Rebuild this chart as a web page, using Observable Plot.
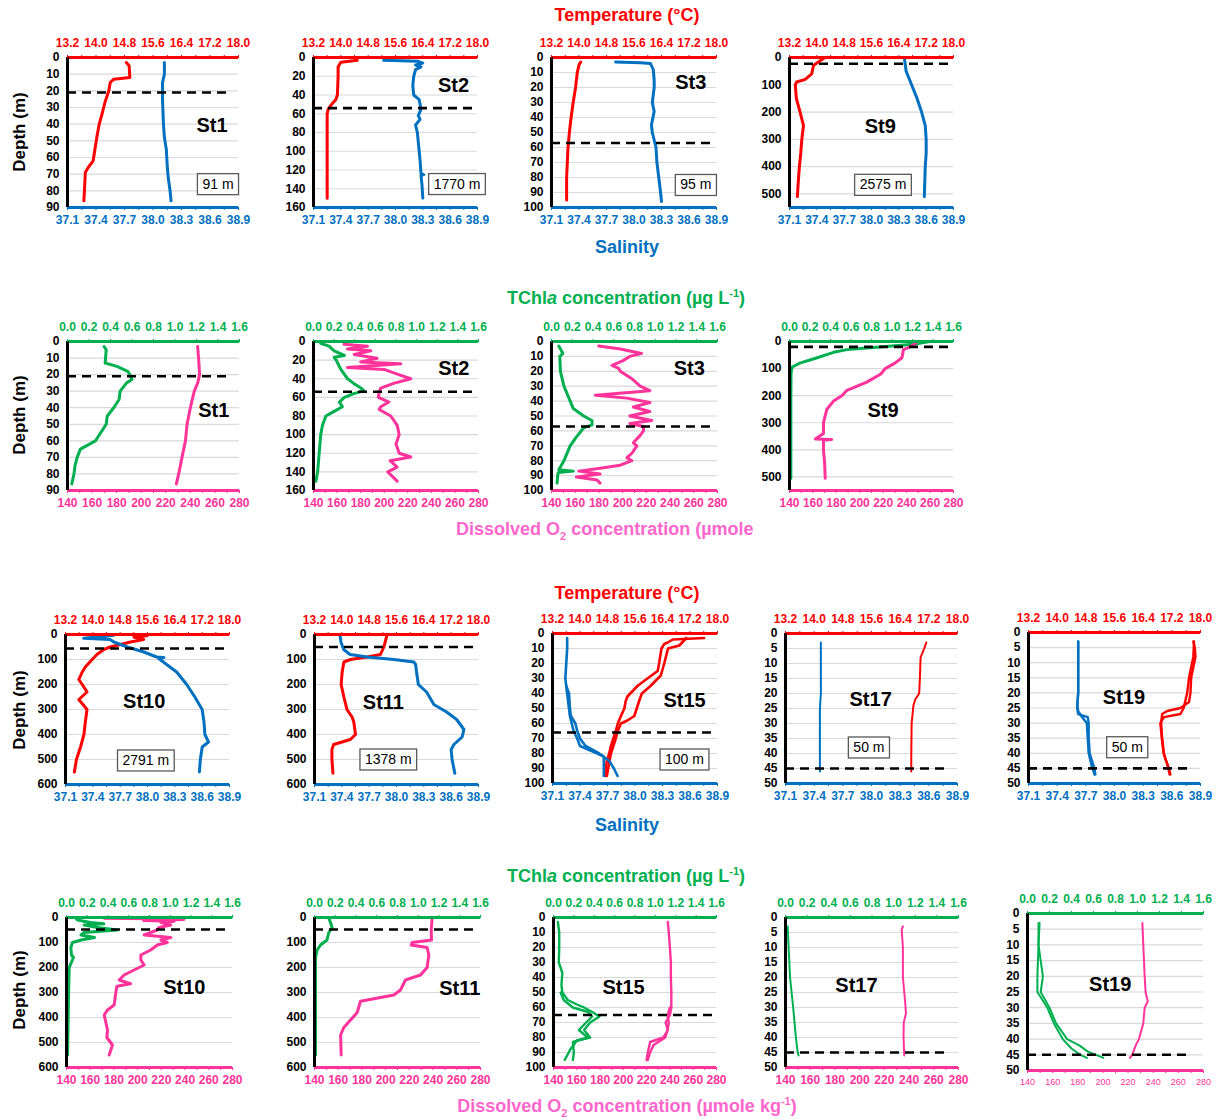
<!DOCTYPE html>
<html><head><meta charset="utf-8">
<script src="https://cdn.jsdelivr.net/npm/d3@7"></script>
<script src="https://cdn.jsdelivr.net/npm/@observablehq/plot@0.6"></script>
<style>
body{margin:0;background:#fff;font-family:"Liberation Sans",Arial,sans-serif;}
#root{position:relative;width:1220px;height:1119px;overflow:hidden;background:#fff}
.panel{position:absolute}
.panel svg{overflow:visible}
.title{position:absolute;font-weight:bold;font-size:18px;white-space:nowrap;transform:translate(-50%,-50%);line-height:1}
.ylab{position:absolute;font-weight:bold;font-size:17px;white-space:nowrap;transform:translate(-50%,-50%) rotate(-90deg);color:#000}
sub,sup{font-size:11px;line-height:0}
</style></head><body><div id="root"></div>
<script>
// ---------------- tick labels ----------------
const tempTicks = [13.2, 14.0, 14.8, 15.6, 16.4, 17.2, 18.0];
const tempMinor = [13.2, 13.6, 14.0, 14.4, 14.8, 15.2, 15.6, 16.0, 16.4, 16.8, 17.2, 17.6, 18.0];
const salTicks = [37.1, 37.4, 37.7, 38.0, 38.3, 38.6, 38.9];
const salMinor = [37.1, 37.25, 37.4, 37.55, 37.7, 37.85, 38.0, 38.15, 38.3, 38.45, 38.6, 38.75, 38.9];
const chlTicks = [0, 0.2, 0.4, 0.6, 0.8, 1.0, 1.2, 1.4, 1.6];
const o2Ticks = [140, 160, 180, 200, 220, 240, 260, 280];
const o2Minor = [140, 150, 160, 170, 180, 190, 200, 210, 220, 230, 240, 250, 260, 270, 280];
const depth90 = [0, 10, 20, 30, 40, 50, 60, 70, 80, 90];
const depth100 = [0, 10, 20, 30, 40, 50, 60, 70, 80, 90, 100];
const depth160 = [0, 20, 40, 60, 80, 100, 120, 140, 160];
const depth500 = [0, 100, 200, 300, 400, 500];
const depth600 = [0, 100, 200, 300, 400, 500, 600];
const depth50 = [0, 5, 10, 15, 20, 25, 30, 35, 40, 45, 50];

// ---------------- profiles: [value, depth] ----------------
// Row 1 : temperature / salinity
const tempSt1 = [[14.85,3],[14.93,5],[14.95,12],[14.5,13],[14.4,15],[14.36,20],[14.25,27],[14.18,33],[14.09,40],[14.03,47],[13.97,55],[13.92,62],[13.78,66],[13.70,69],[13.68,78],[13.66,86]];
const salSt1 = [[38.12,3],[38.12,10],[38.10,15],[38.10,25],[38.11,40],[38.12,48],[38.14,55],[38.15,65],[38.16,72],[38.18,80],[38.19,86]];
const tempSt2 = [[14.48,3],[14.0,5],[13.92,10],[13.92,20],[13.91,30],[13.9,40],[13.85,45],[13.73,50],[13.63,55],[13.6,60],[13.6,80],[13.6,100],[13.6,120],[13.6,150]];
const salSt2 = [[37.87,3],[38.24,4],[38.3,6],[38.22,8],[38.28,10],[38.22,13],[38.2,20],[38.19,30],[38.2,40],[38.26,45],[38.28,55],[38.25,62],[38.27,66],[38.22,72],[38.24,80],[38.25,90],[38.26,100],[38.27,110],[38.28,124],[38.31,125],[38.28,126],[38.29,135],[38.30,150]];
const tempSt3 = [[14.05,3],[14.0,5],[13.95,10],[13.9,20],[13.83,30],[13.77,40],[13.72,50],[13.68,60],[13.66,70],[13.64,80],[13.64,95]];
const salSt3 = [[37.80,3],[38.07,3.5],[38.18,4],[38.21,8],[38.22,15],[38.22,20],[38.2,30],[38.22,36],[38.19,45],[38.2,50],[38.24,60],[38.25,70],[38.27,80],[38.29,90],[38.30,96]];
const tempSt9 = [[14.24,0],[14.0,20],[13.9,30],[13.85,60],[13.66,80],[13.41,90],[13.37,100],[13.4,150],[13.51,200],[13.61,250],[13.56,300],[13.53,350],[13.49,400],[13.46,450],[13.43,510]];
const salSt9 = [[38.36,0],[38.38,50],[38.44,100],[38.50,150],[38.55,200],[38.59,250],[38.60,300],[38.60,350],[38.59,400],[38.58,510]];
// Row 2 : TChla / O2
const chlSt1 = [[0.34,3],[0.36,5],[0.35,13],[0.46,15],[0.56,18],[0.58,20],[0.60,23],[0.55,25],[0.49,30],[0.48,35],[0.43,40],[0.37,45],[0.36,50],[0.31,55],[0.26,60],[0.12,65],[0.09,70],[0.07,75],[0.06,80],[0.04,86]];
const o2St1 = [[245.9,3],[246.7,10],[247.5,20],[246,25],[243.2,30],[240,40],[237.3,50],[236,60],[233.2,70],[230.5,80],[228.6,86]];
const chlSt2 = [[0.07,2],[0.15,5],[0.2,10],[0.3,15],[0.2,17],[0.22,20],[0.265,30],[0.33,40],[0.39,45],[0.46,50],[0.49,53],[0.39,56],[0.30,60],[0.25,65],[0.28,70],[0.2,75],[0.12,80],[0.087,90],[0.07,100],[0.055,120],[0.04,140],[0.023,150]];
const o2St2 = [[166,3],[185.8,5],[168.8,8],[188.6,10],[174.5,14],[194,18],[180,22],[214,24],[168.8,28],[200,30],[211,35],[222.6,40],[208,45],[197,50],[195.7,55],[195,60],[204,65],[197,70],[195.7,73],[205.6,80],[211,90],[212.7,100],[210,110],[212.7,120],[222.6,124],[205,128],[211,135],[203,140],[211,150]];
const chlSt3 = [[0.07,3],[0.11,8],[0.08,10],[0.086,20],[0.12,30],[0.18,40],[0.21,45],[0.31,50],[0.39,53],[0.39,56],[0.31,58],[0.23,65],[0.18,70],[0.12,80],[0.07,86],[0.21,87],[0.065,88],[0.06,90],[0.054,95]];
const o2St3 = [[179.8,3],[198,5],[216,8],[206,10],[200,13],[191,16],[196.6,18],[198,20],[207.8,25],[214.8,30],[223,33],[177,36],[203.6,38],[223,41],[209,44],[223,47],[206,50],[224.6,53],[206,55],[217.6,57],[217.6,60],[214.8,63],[209,68],[212,70],[207.8,75],[203.6,78],[207.8,80],[198,83],[181,85],[163,87],[181,89],[161,91],[178.4,93],[181,95]];
const chlSt9 = [[1.37,0],[1.21,10],[0.88,20],[0.72,25],[0.56,30],[0.43,40],[0.27,60],[0.10,80],[0.023,95],[0.015,120],[0.013,200],[0.013,300],[0.013,400],[0.013,505]];
const o2St9 = [[248.7,3],[243,20],[237.3,30],[236,60],[230,80],[221.7,100],[218,120],[206,150],[189,180],[184.7,200],[177.6,220],[171.9,250],[169,300],[169,340],[162,360],[176,362],[169,365],[169,400],[170,450],[170.5,505]];
// Row 3 : temperature / salinity
const tempSt10 = [[15.59,5],[15.2,10],[15.49,20],[15.1,30],[14.81,40],[14.51,50],[14.32,60],[14.12,80],[13.98,100],[13.78,130],[13.69,150],[13.59,180],[13.69,200],[13.83,230],[13.59,260],[13.83,300],[13.78,350],[13.74,400],[13.64,450],[13.52,500],[13.46,550]];
const salSt10 = [[37.63,3],[37.45,10],[37.30,15],[37.59,20],[37.63,30],[37.78,50],[37.96,70],[38.10,90],[38.18,92],[38.12,95],[38.21,120],[38.32,150],[38.43,200],[38.52,250],[38.60,300],[38.62,350],[38.63,400],[38.67,430],[38.60,450],[38.58,500],[38.57,550]];
const tempSt11 = [[15.32,3],[15.23,50],[15.13,80],[14.74,90],[14.25,100],[14.06,110],[14.01,150],[13.98,200],[14.06,250],[14.15,300],[14.3,330],[14.35,350],[14.4,400],[14.25,420],[13.76,440],[13.71,460],[13.71,500],[13.74,555]];
const salSt11 = [[37.38,3],[37.39,30],[37.42,60],[37.49,80],[37.68,90],[37.97,100],[38.19,110],[38.21,120],[38.22,150],[38.24,200],[38.33,230],[38.41,280],[38.55,310],[38.66,340],[38.74,380],[38.72,410],[38.63,440],[38.60,460],[38.61,500],[38.64,555]];
const tempSt15a = [[17.61,3],[16.7,4],[16.55,6],[16.45,7],[16.37,10],[16.3,20],[16.26,25],[15.96,30],[15.67,35],[15.38,42],[15.33,45],[15.29,50],[15.19,55],[15.1,60],[15.04,65],[14.97,70],[14.9,75],[14.85,80],[14.78,85],[14.75,90],[14.75,95]];
const tempSt15b = [[17.09,3],[16.89,8],[16.56,10],[16.45,20],[16.35,28],[16.05,35],[15.8,40],[15.72,45],[15.65,50],[15.58,55],[15.38,58],[15.19,60],[15.1,65],[15.04,70],[14.9,80],[14.82,90],[14.78,95]];
const salSt15a = [[37.26,3],[37.26,10],[37.25,20],[37.24,30],[37.25,35],[37.28,40],[37.29,50],[37.30,55],[37.35,60],[37.37,65],[37.40,70],[37.46,75],[37.61,80],[37.72,85],[37.77,90],[37.81,95]];
const salSt15b = [[37.25,35],[37.27,45],[37.29,55],[37.31,60],[37.33,65],[37.37,70],[37.40,75],[37.59,80],[37.66,82],[37.66,95]];
const tempSt17 = [[17.13,3],[17.07,5],[16.97,8],[16.95,15],[16.93,20],[16.82,22],[16.77,24],[16.72,30],[16.71,40],[16.71,46]];
const salSt17 = [[37.47,3],[37.47,10],[37.47,20],[37.46,25],[37.46,35],[37.46,46]];
const tempSt19a = [[17.80,3],[17.84,5],[17.86,8],[17.74,15],[17.72,20],[17.68,23],[17.44,25],[17.07,26],[16.93,27],[16.90,30],[16.93,35],[16.98,40],[17.02,42],[17.12,45],[17.16,47]];
const tempSt19b = [[17.82,3],[17.80,8],[17.68,15],[17.63,20],[17.53,25],[17.44,27],[16.98,28],[16.88,30],[16.92,35],[16.97,40],[17.06,43],[17.14,47]];
const salSt19a = [[37.62,3],[37.62,10],[37.62,20],[37.61,25],[37.62,27],[37.72,28],[37.73,30],[37.73,35],[37.74,40],[37.76,42],[37.79,45],[37.80,47]];
const salSt19b = [[37.62,3],[37.62,20],[37.61,24],[37.62,26],[37.66,28],[37.71,30],[37.72,35],[37.73,40],[37.76,44],[37.79,47]];
// Row 4 : TChla / O2
const chlSt10 = [[0.09,3],[0.106,10],[0.23,20],[0.36,25],[0.17,30],[0.30,40],[0.49,50],[0.33,55],[0.17,60],[0.14,70],[0.27,80],[0.14,90],[0.058,100],[0.042,120],[0.048,150],[0.067,160],[0.026,200],[0.02,300],[0.016,400],[0.01,550]];
const o2St10 = [[171.8,3],[211,5],[239,8],[205,12],[230.8,15],[219.6,20],[228,30],[218,40],[216.6,50],[205.5,70],[228,80],[219.6,90],[225,100],[216.6,110],[211,130],[202.7,150],[202.7,170],[205.5,190],[197,210],[188.6,230],[184.4,250],[194,265],[182.5,275],[181.6,300],[180.2,350],[174.6,370],[171.8,390],[173.2,420],[174.6,450],[174,480],[178.8,510],[176,550]];
const chlSt11 = [[0.138,3],[0.154,20],[0.17,40],[0.138,60],[0.12,90],[0.058,110],[0.026,130],[0.01,160],[0.01,300],[0.01,550]];
const o2St11 = [[239.2,3],[238.4,50],[238.7,90],[222.4,100],[221.6,110],[235,120],[236.4,150],[235,200],[229.4,230],[216.7,250],[212.5,290],[206.9,310],[190,325],[178.8,335],[176,380],[170.4,410],[164.7,440],[162,470],[162.5,550]];
const chlSt15a = [[0.043,3],[0.056,10],[0.056,20],[0.052,30],[0.087,37],[0.078,45],[0.087,50],[0.14,55],[0.23,58],[0.30,60],[0.38,63],[0.45,66],[0.36,70],[0.30,75],[0.36,80],[0.23,82],[0.165,88],[0.11,95]];
const chlSt15b = [[0.07,50],[0.10,55],[0.19,60],[0.34,63],[0.38,66],[0.32,70],[0.25,75],[0.30,78],[0.34,80],[0.19,83],[0.20,90],[0.19,95]];
const o2St15a = [[238.2,3],[239,10],[240,20],[240.8,30],[240.8,40],[241.2,50],[241.2,60],[240,65],[236.3,70],[238.2,75],[234.3,80],[223,83],[221,90],[219.9,95]];
const o2St15b = [[240,60],[238,65],[239,70],[238,75],[236,80],[226,85],[223,90],[221,95]];
const chlSt17 = [[0.02,3],[0.029,10],[0.042,20],[0.071,30],[0.096,40],[0.113,45],[0.121,46]];
const o2St17 = [[235,3],[234,4],[235,10],[235,20],[236.8,28],[237.5,32],[235.7,35],[235.5,40],[236.1,46]];
const chlSt19a = [[0.11,3],[0.10,10],[0.12,15],[0.14,20],[0.12,25],[0.20,30],[0.26,35],[0.36,40],[0.47,42],[0.55,44],[0.69,46]];
const chlSt19b = [[0.10,3],[0.10,10],[0.09,20],[0.09,25],[0.18,30],[0.24,35],[0.32,40],[0.40,43],[0.48,45],[0.54,46]];
const o2St19 = [[231.4,3],[232.1,10],[233.2,20],[233.9,25],[235.7,28],[233.2,30],[232.1,35],[228.6,40],[226.1,42],[223.3,45],[221.5,46]];

// mixed layer depths (dashed)
const mldRow1 = [21, 54, 57, 23];
const mldRow2 = [21, 54, 57, 20];
const mldRow3 = [56, 50, 66, 45, 45];
const mldRow4 = [48, 48, 65, 45, 45];
const bottomDepthLabels = ["91 m", "1770 m", "95 m", "2575 m", "2791 m", "1378 m", "100 m", "50 m", "50 m"];

// ---------------- helpers ----------------
const RED = "#FF0000", BLUE = "#0070C0", GREEN = "#00B050", PINK = "#FF3399", GRID = "#D9D9D9";
const s2t = s => 13.2 + (s - 37.1) * 4.8 / 1.8;
const t2s = t => 37.1 + (t - 13.2) * 1.8 / 4.8;
const o2c = o => (o - 140) * 1.6 / 140;
const c2o = c => 140 + c * 140 / 1.6;
const V = d => d[0], S = d => s2t(d[0]), O = d => o2c(d[0]);

const root = document.getElementById("root");

function panel(p) {
  const ml = 46, mr = 12, mt = 30, mb = 26;
  const fw = p.right - p.left, fh = p.bottom - p.top;
  const ts = p.kind === "ts";
  const dom = ts ? [13.2, 18.0] : [0, 1.6];
  const fx = f => dom[0] + f * (dom[1] - dom[0]);
  const topC = ts ? RED : GREEN, botC = ts ? BLUE : PINK;
  const lw = p.lw || 3;
  const marks = [
    Plot.gridY(p.ticks.filter(t => t > 0 && t < p.max), {stroke: GRID, strokeOpacity: 1, strokeWidth: 1.2})
  ];
  for (const s of p.series) {
    marks.push(Plot.line(s.data, {x: s.x, y: d => d[1], stroke: s.color, strokeWidth: lw, strokeLinejoin: "round", strokeLinecap: "round"}));
  }
  marks.push(
    Plot.ruleY([p.mld], {x1: dom[0], x2: fx(p.dashEnd), stroke: "#000", strokeWidth: 2.6, strokeDasharray: "9,6"}),
    Plot.ruleY([0], {stroke: topC, strokeWidth: 3}),
    Plot.ruleY([p.max], {stroke: botC, strokeWidth: 3}),
    Plot.ruleX([dom[0]], {stroke: "#000", strokeWidth: 3}),
    Plot.axisX({anchor: "top", ticks: ts ? tempMinor : chlTicks, tickSize: 3, tickFormat: () => "", color: topC, label: null}),
    Plot.axisX({anchor: "top", ticks: ts ? tempTicks : chlTicks, tickSize: 0, tickPadding: 11,
      tickFormat: d => d.toFixed(1), color: topC, fontWeight: "bold", fontSize: 12, label: null}),
    Plot.axisX({anchor: "bottom", ticks: (ts ? salMinor.map(s2t) : o2Minor.map(o2c)), tickSize: 3, tickFormat: () => "", color: botC, label: null}),
    Plot.axisX({anchor: "bottom", ticks: (ts ? salTicks.map(s2t) : o2Ticks.map(o2c)), tickSize: 0, tickPadding: 8,
      tickFormat: ts ? (t => t2s(t).toFixed(1)) : (c => String(Math.round(c2o(c)))),
      color: botC, fontWeight: p.smallBottom ? "normal" : "bold", fontSize: p.smallBottom ? 9 : 12, label: null}),
    Plot.axisY({ticks: p.ticks, tickSize: 0, tickPadding: 8, tickFormat: d => String(d), fontWeight: "bold", fontSize: 12, color: "#000", label: null}),
    Plot.text([{x: fx(p.nameAt[0]), y: p.nameAt[1], t: p.name}], {x: "x", y: "y", text: "t", fontSize: 20, fontWeight: "bold", fill: "#000"})
  );
  if (p.box) {
    marks.push(Plot.text([{x: fx(p.boxAt[0]), y: p.boxAt[1], t: p.box}], {x: "x", y: "y", text: "t", fontSize: 14, fontWeight: "normal", fill: "#000"}));
  }
  const svg = Plot.plot({
    width: fw + ml + mr, height: fh + mt + mb,
    marginLeft: ml, marginRight: mr, marginTop: mt, marginBottom: mb,
    x: {domain: dom},
    y: {domain: [0, p.max], reverse: true},
    style: {fontFamily: "'Liberation Sans', Arial, sans-serif", fontSize: "12px", overflow: "visible", background: "transparent"},
    marks
  });
  const div = document.createElement("div");
  div.className = "panel";
  div.style.left = (p.left - ml) + "px";
  div.style.top = (p.top - mt) + "px";
  div.appendChild(svg);
  root.appendChild(div);
  if (p.box) {
    svg.querySelectorAll("text").forEach(t => {
      if (t.textContent === p.box) {
        const b = t.getBBox();
        const r = document.createElementNS("http://www.w3.org/2000/svg", "rect");
        r.setAttribute("x", b.x - 5); r.setAttribute("y", b.y - 2);
        r.setAttribute("width", b.width + 10); r.setAttribute("height", b.height + 5);
        r.setAttribute("fill", "#fff"); r.setAttribute("stroke", "#595959"); r.setAttribute("stroke-width", "1.3");
        const tr = t.getAttribute("transform");
        if (tr) r.setAttribute("transform", tr);
        t.parentNode.insertBefore(r, t);
      }
    });
  }
}

const tsSeries = (t, s) => [{data: t, x: V, color: RED}, {data: s, x: S, color: BLUE}];
const coSeries = (c, o) => [{data: c, x: V, color: GREEN}, {data: o, x: O, color: PINK}];

const panels = [
  // Row 1
  {kind: "ts", left: 67, right: 238, top: 57, bottom: 207, max: 90, ticks: depth90, mld: mldRow1[0], dashEnd: 0.94, name: "St1", nameAt: [0.845, 41], box: bottomDepthLabels[0], boxAt: [0.88, 76], series: tsSeries(tempSt1, salSt1)},
  {kind: "ts", left: 313, right: 477, top: 57, bottom: 207, max: 160, ticks: depth160, mld: mldRow1[1], dashEnd: 0.985, name: "St2", nameAt: [0.854, 30], box: bottomDepthLabels[1], boxAt: [0.875, 135], series: tsSeries(tempSt2, salSt2)},
  {kind: "ts", left: 551, right: 716, top: 57, bottom: 207, max: 100, ticks: depth100, mld: mldRow1[2], dashEnd: 0.985, name: "St3", nameAt: [0.844, 17], box: bottomDepthLabels[2], boxAt: [0.875, 85], series: tsSeries(tempSt3, salSt3)},
  {kind: "ts", left: 789, right: 953, top: 57, bottom: 207, max: 550, ticks: depth500, mld: mldRow1[3], dashEnd: 1.0, name: "St9", nameAt: [0.553, 252], box: bottomDepthLabels[3], boxAt: [0.57, 467], series: tsSeries(tempSt9, salSt9)},
  // Row 2
  {kind: "co", left: 67, right: 239, top: 341, bottom: 490, max: 90, ticks: depth90, mld: mldRow2[0], dashEnd: 0.927, name: "St1", nameAt: [0.85, 42], series: coSeries(chlSt1, o2St1)},
  {kind: "co", left: 313, right: 478, top: 341, bottom: 490, max: 160, ticks: depth160, mld: mldRow2[1], dashEnd: 0.97, name: "St2", nameAt: [0.85, 29], series: coSeries(chlSt2, o2St2)},
  {kind: "co", left: 551, right: 717, top: 341, bottom: 490, max: 100, ticks: depth100, mld: mldRow2[2], dashEnd: 0.97, name: "St3", nameAt: [0.83, 18], series: coSeries(chlSt3, o2St3)},
  {kind: "co", left: 789, right: 953, top: 341, bottom: 490, max: 550, ticks: depth500, mld: mldRow2[3], dashEnd: 1.0, name: "St9", nameAt: [0.57, 255], series: coSeries(chlSt9, o2St9)},
  // Row 3
  {kind: "ts", left: 65, right: 229, top: 634, bottom: 784, max: 600, ticks: depth600, mld: mldRow3[0], dashEnd: 0.99, name: "St10", nameAt: [0.48, 270], box: bottomDepthLabels[4], boxAt: [0.49, 504], series: tsSeries(tempSt10, salSt10)},
  {kind: "ts", left: 314, right: 478, top: 634, bottom: 784, max: 600, ticks: depth600, mld: mldRow3[1], dashEnd: 0.99, name: "St11", nameAt: [0.42, 274], box: bottomDepthLabels[5], boxAt: [0.45, 500], series: tsSeries(tempSt11, salSt11)},
  {kind: "ts", left: 552, right: 717, top: 633, bottom: 783, max: 100, ticks: depth100, mld: mldRow3[2], dashEnd: 1.0, lw: 2.6, name: "St15", nameAt: [0.8, 45], box: bottomDepthLabels[6], boxAt: [0.8, 84],
    series: [{data: tempSt15a, x: V, color: RED}, {data: tempSt15b, x: V, color: RED}, {data: salSt15a, x: S, color: BLUE}, {data: salSt15b, x: S, color: BLUE}]},
  {kind: "ts", left: 785, right: 957, top: 633, bottom: 783, max: 50, ticks: depth50, mld: mldRow3[3], dashEnd: 0.95, lw: 2, name: "St17", nameAt: [0.495, 22], box: bottomDepthLabels[7], boxAt: [0.485, 38], series: tsSeries(tempSt17, salSt17)},
  {kind: "ts", left: 1028, right: 1200, top: 632, bottom: 783, max: 50, ticks: depth50, mld: mldRow3[4], dashEnd: 0.95, lw: 2.4, name: "St19", nameAt: [0.555, 21.5], box: bottomDepthLabels[8], boxAt: [0.574, 38],
    series: [{data: tempSt19a, x: V, color: RED}, {data: tempSt19b, x: V, color: RED}, {data: salSt19a, x: S, color: BLUE}, {data: salSt19b, x: S, color: BLUE}]},
  // Row 4
  {kind: "co", left: 66, right: 232, top: 917, bottom: 1067, max: 600, ticks: depth600, mld: mldRow4[0], dashEnd: 0.98, name: "St10", nameAt: [0.71, 280], series: coSeries(chlSt10, o2St10)},
  {kind: "co", left: 314, right: 480, top: 917, bottom: 1067, max: 600, ticks: depth600, mld: mldRow4[1], dashEnd: 0.99, name: "St11", nameAt: [0.875, 285], series: coSeries(chlSt11, o2St11)},
  {kind: "co", left: 553, right: 716, top: 917, bottom: 1067, max: 100, ticks: depth100, mld: mldRow4[2], dashEnd: 1.0, lw: 2.4, name: "St15", nameAt: [0.43, 47],
    series: [{data: chlSt15a, x: V, color: GREEN}, {data: chlSt15b, x: V, color: GREEN}, {data: o2St15a, x: O, color: PINK}, {data: o2St15b, x: O, color: PINK}]},
  {kind: "co", left: 785, right: 958, top: 917, bottom: 1067, max: 50, ticks: depth50, mld: mldRow4[3], dashEnd: 0.95, lw: 2, name: "St17", nameAt: [0.41, 22.8], series: coSeries(chlSt17, o2St17)},
  {kind: "co", left: 1027, right: 1203, top: 913, bottom: 1070, max: 50, ticks: depth50, mld: mldRow4[4], dashEnd: 0.92, lw: 2, smallBottom: true, name: "St19", nameAt: [0.47, 22.8],
    series: [{data: chlSt19a, x: V, color: GREEN}, {data: chlSt19b, x: V, color: GREEN}, {data: o2St19, x: O, color: PINK}]}
];
panels.forEach(panel);

// ---------------- titles ----------------
function addTitle(html, x, y, color, cls, anchorLeft) {
  const d = document.createElement("div");
  d.className = cls;
  d.innerHTML = html;
  d.style.left = x + "px"; d.style.top = y + "px"; d.style.color = color;
  if (anchorLeft) d.style.transform = "translate(0,-50%)";
  root.appendChild(d);
}
addTitle("Temperature (°C)", 627, 15, RED, "title");
addTitle("Salinity", 627, 247, BLUE, "title");
addTitle("TChl<i>a</i> concentration (µg L<sup>-1</sup>)", 626, 298, GREEN, "title");
addTitle("Dissolved O<sub>2</sub> concentration (µmole", 456, 529, "#FF66CC", "title", true);
addTitle("Temperature (°C)", 627, 593, RED, "title");
addTitle("Salinity", 627, 825, BLUE, "title");
addTitle("TChl<i>a</i> concentration (µg L<sup>-1</sup>)", 626, 876, GREEN, "title");
addTitle("Dissolved O<sub>2</sub> concentration (µmole kg<sup>-1</sup>)", 627, 1106, "#FF66CC", "title");
[132, 415, 710, 990].forEach(y => addTitle("Depth (m)", 20, y, "#000", "ylab"));
</script></body></html>
